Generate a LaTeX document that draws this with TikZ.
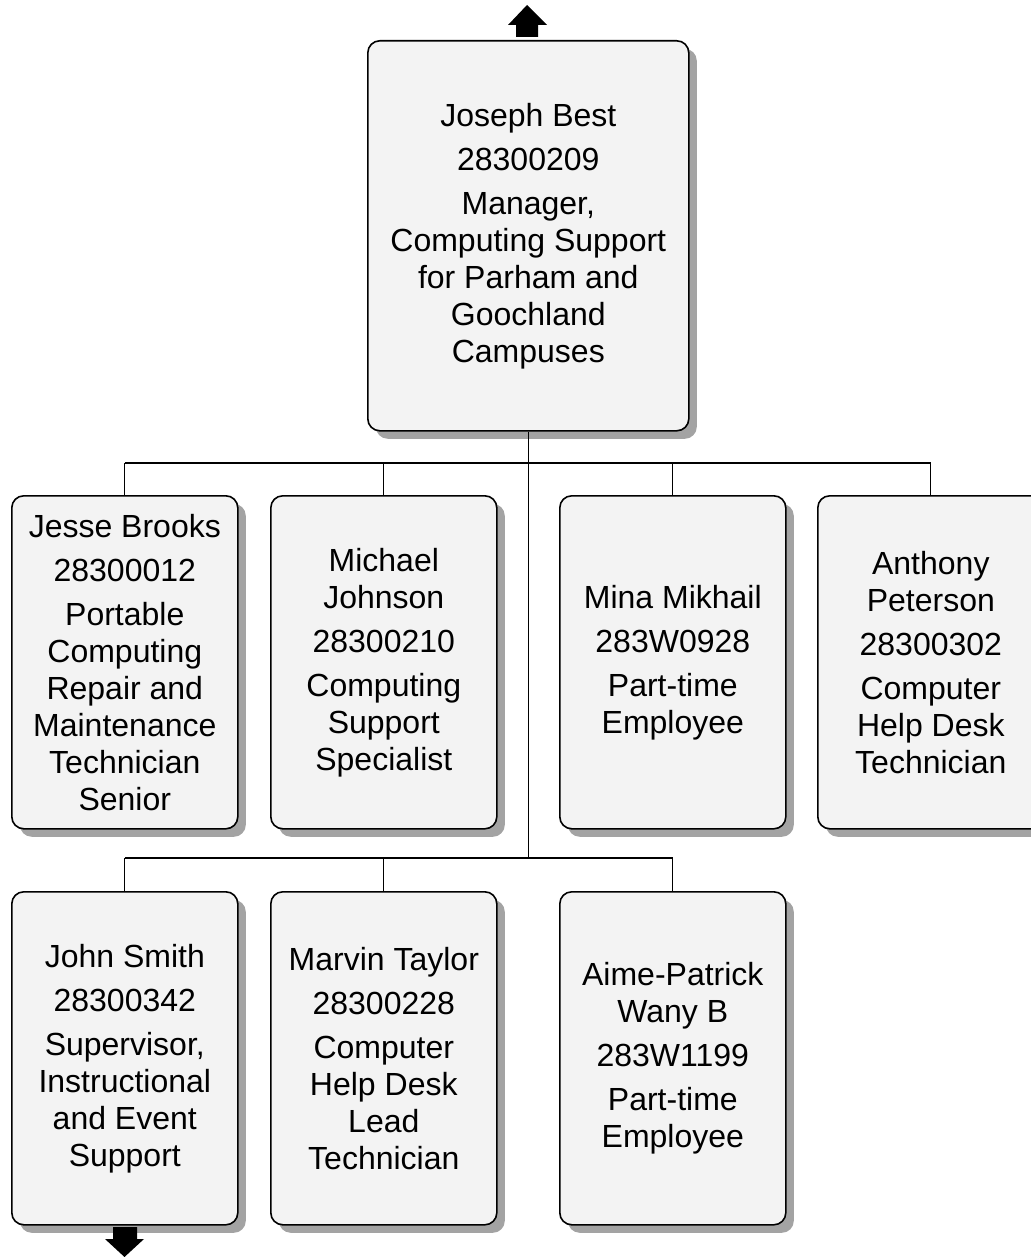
\documentclass[tikz,border=0pt]{standalone}
\usepackage{fontspec}
\setmainfont{Liberation Sans}
\usetikzlibrary{shadows}
\definecolor{boxfill}{HTML}{F3F3F3}
\definecolor{shadowgray}{HTML}{A3A3A3}
\begin{document}
\begin{tikzpicture}[x=1pt,y=-1pt,
  person/.style={draw=black, line width=1.6pt, fill=boxfill, rounded corners=12pt,
    anchor=north west, minimum width=226pt, minimum height=333pt, inner sep=0pt,
    align=center, font=\fontsize{32}{37}\selectfont,
    drop shadow={shadow xshift=8pt, shadow yshift=-8pt, fill=shadowgray, opacity=1}},
  link/.style={draw=black, line width=1.3pt},
  tip/.style={fill=black}]
\useasboundingbox (0,0) rectangle (1030,1257);

\node[person, minimum width=321pt, minimum height=390pt] (top) at (367,40)
  {Joseph Best\\[7pt]28300209\\[7pt]Manager,\\Computing Support\\for Parham and\\Goochland\\Campuses};

\node[person] (jb) at (11,495) {Jesse Brooks\\[7pt]28300012\\[7pt]Portable\\Computing\\Repair and\\Maintenance\\Technician\\Senior};
\node[person] (mj) at (270,495) {Michael\\Johnson\\[7pt]28300210\\[7pt]Computing\\Support\\Specialist};
\node[person] (mm) at (559,495) {Mina Mikhail\\[7pt]283W0928\\[7pt]Part-time\\Employee};
\node[person] (ap) at (817,495) {Anthony\\Peterson\\[7pt]28300302\\[7pt]Computer\\Help Desk\\Technician};

\node[person] (js) at (11,891) {John Smith\\[7pt]28300342\\[7pt]Supervisor,\\Instructional\\and Event\\Support};
\node[person] (mt) at (270,891) {Marvin Taylor\\[7pt]28300228\\[7pt]Computer\\Help Desk\\Lead\\Technician};
\node[person] (aw) at (559,891) {Aime-Patrick\\Wany B\\[7pt]283W1199\\[7pt]Part-time\\Employee};

\coordinate (bus1) at (527,463);
\coordinate (bus2) at (527,858);

\draw[link] (top.south) -- (top.south |- bus2);
\draw[link] (jb.north |- bus1) -- (ap.north |- bus1);
\foreach \n in {jb,mj,mm,ap} \draw[link] (\n.north) -- (\n.north |- bus1);
\draw[link] (js.north |- bus2) -- (aw.north |- bus2);
\foreach \n in {js,mt,aw} \draw[link] (\n.north) -- (\n.north |- bus2);

\fill[tip] (516,37) -- (516,25) -- (508,25) -- (527,5) -- (547,25) -- (538,25) -- (538,37) -- cycle;
\fill[tip] (113,1227) -- (137,1227) -- (137,1239) -- (144,1239) -- (124.5,1257) -- (105,1239) -- (113,1239) -- cycle;
\end{tikzpicture}
\end{document}
